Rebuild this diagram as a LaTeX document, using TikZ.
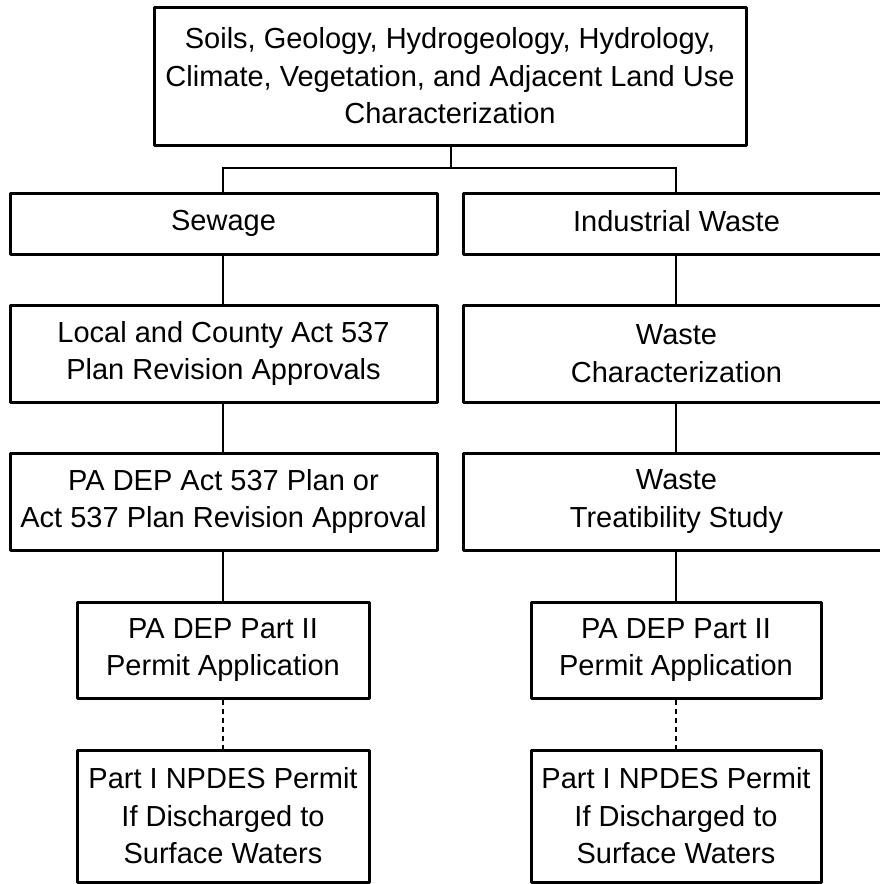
\documentclass[tikz,border=0pt]{standalone}
\usepackage{fontspec}
\setmainfont{Liberation Sans}
\begin{document}
\begin{tikzpicture}[x=1pt,y=-1pt,
  box/.style={draw, line width=3pt, rectangle, inner sep=0pt, align=center,
    font=\fontsize{29}{37.5}\selectfont, line join=round},
  conn/.style={line width=2pt},
  dconn/.style={line width=2pt, dash pattern=on 5pt off 4pt}]
\useasboundingbox (0,0) rectangle (880,884);
\clip (0,0) rectangle (880,884);
\node[box, minimum width=592pt, minimum height=138pt] (top) at (450,76)
  {Soils, Geology, Hydrogeology, Hydrology,\\Climate, Vegetation, and Adjacent Land Use\\Characterization};
\node[box, minimum width=427pt, minimum height=61pt] (sew) at (223.5,223.5) {Sewage\vphantom{I}};
\node[box, minimum width=427pt, minimum height=61pt] (ind) at (676.5,223.5) {Industrial Waste\vphantom{g}};
\node[box, minimum width=427pt, minimum height=97pt] (loc) at (223.5,353.5) {Local and County Act 537\\Plan Revision Approvals};
\node[box, minimum width=427pt, minimum height=97pt] (wch) at (676.5,353.5) {Waste\\Characterization};
\node[box, minimum width=427pt, minimum height=97pt] (pad) at (223.5,501.5) {PA DEP Act 537 Plan or\\Act 537 Plan Revision Approval};
\node[box, minimum width=427pt, minimum height=97pt] (wts) at (676.5,501.5) {Waste\\Treatibility Study};
\node[box, minimum width=292pt, minimum height=96pt] (p2l) at (223,650) {PA DEP Part II\\Permit Application};
\node[box, minimum width=290pt, minimum height=96pt] (p2r) at (676,650) {PA DEP Part II\\Permit Application};
\node[box, minimum width=292pt, minimum height=132pt] (npl) at (223,816) {Part I NPDES Permit\\If Discharged to\\Surface Waters};
\node[box, minimum width=290pt, minimum height=132pt] (npr) at (676,816) {Part I NPDES Permit\\If Discharged to\\Surface Waters};
\coordinate (j) at (451,168);
\draw[conn] (top.south -| j) -- (j);
\draw[conn] (sew.north -| p2l) |- (j) -| (ind.north -| p2r);
\draw[conn] (sew.south -| p2l) -- (loc.north -| p2l);
\draw[conn] (loc.south -| p2l) -- (pad.north -| p2l);
\draw[conn] (pad.south -| p2l) -- (p2l.north);
\draw[dconn] (p2l.south) -- (npl.north);
\draw[conn] (ind.south -| p2r) -- (wch.north -| p2r);
\draw[conn] (wch.south -| p2r) -- (wts.north -| p2r);
\draw[conn] (wts.south -| p2r) -- (p2r.north);
\draw[dconn] (p2r.south) -- (npr.north);
\end{tikzpicture}
\end{document}
